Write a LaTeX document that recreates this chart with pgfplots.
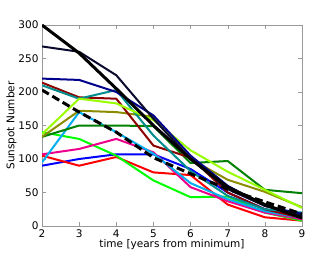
\documentclass[border=0pt]{standalone}
\usepackage{fontspec}
\setmainfont{DejaVu Sans}
\usepackage{pgfplots}
\pgfplotsset{compat=1.18}
\definecolor{cnavy}{rgb}{0,0,0.55}
\definecolor{cblk}{rgb}{0.04,0.04,0.18}
\definecolor{cdred}{rgb}{0.55,0,0}
\definecolor{cteal}{rgb}{0,0.55,0.55}
\definecolor{colive}{rgb}{0.55,0.55,0}
\definecolor{cchart}{rgb}{0.6,1,0}
\definecolor{cdgreen}{rgb}{0,0.5,0}
\definecolor{clime}{rgb}{0,1,0}
\begin{document}
\begin{tikzpicture}
\begin{axis}[
  scale only axis, width=260pt, height=201pt,
  xmin=2, xmax=9, ymin=0, ymax=300,
  xtick={2,...,9}, ytick={0,50,...,300},
  tick align=inside, major tick length=4pt,
  axis line style={gray!80, line width=0.9pt},
  tick style={gray!80},
  ticklabel style={font=\fontsize{10.5}{12}\selectfont},
  /pgf/number format/assume math mode=true,
  xlabel={time [years from minimum]},
  ylabel={Sunspot Number},
  label style={font=\fontsize{10.5}{12}\selectfont},
  xlabel style={yshift=5pt},
  ylabel style={yshift=-5pt},
  every axis plot/.append style={line width=2pt, line join=round},
]
\addplot[blue] coordinates {(2,90)(3,100)(4,107)(5,107)(6,85)(7,50)(8,25)(9,15)};
\addplot[red] coordinates {(2,105)(3,90)(4,103)(5,80)(6,76)(7,32)(8,13)(9,8)};
\addplot[clime] coordinates {(2,140)(3,130)(4,105)(5,68)(6,43)(7,44)(8,20)(9,8)};
\addplot[magenta] coordinates {(2,107)(3,115)(4,130)(5,110)(6,58)(7,37)(8,20)(9,10)};
\addplot[cyan] coordinates {(2,95)(3,170)(4,140)(5,108)(6,64)(7,40)(8,22)(9,12)};
\addplot[cdgreen] coordinates {(2,133)(3,150)(4,150)(5,149)(6,94)(7,97)(8,54)(9,49)};
\addplot[colive] coordinates {(2,133)(3,172)(4,170)(5,163)(6,100)(7,69)(8,51)(9,28)};
\addplot[cdred] coordinates {(2,214)(3,192)(4,190)(5,120)(6,102)(7,50)(8,25)(9,12)};
\addplot[cteal] coordinates {(2,210)(3,190)(4,203)(5,135)(6,82)(7,45)(8,25)(9,20)};
\addplot[cchart] coordinates {(2,137)(3,190)(4,183)(5,158)(6,113)(7,81)(8,54)(9,27)};
\addplot[cnavy] coordinates {(2,220)(3,218)(4,200)(5,165)(6,105)(7,60)(8,30)(9,18)};
\addplot[cblk] coordinates {(2,268)(3,260)(4,225)(5,160)(6,100)(7,55)(8,30)(9,15)};
\addplot[black, line width=3pt] coordinates {(2,300)(3,258)(4,205)(5,150)(6,100)(7,58)(8,32)(9,12)};
\addplot[black, line width=3pt, dash pattern=on 8pt off 4pt] coordinates {(2,203)(3,170)(4,140)(5,102)(6,78)(7,55)(8,36)(9,18)};
\end{axis}
\path (current axis.south west) +(-42pt,-26pt) (current axis.north east) +(34pt,25pt);
\end{tikzpicture}
\end{document}
